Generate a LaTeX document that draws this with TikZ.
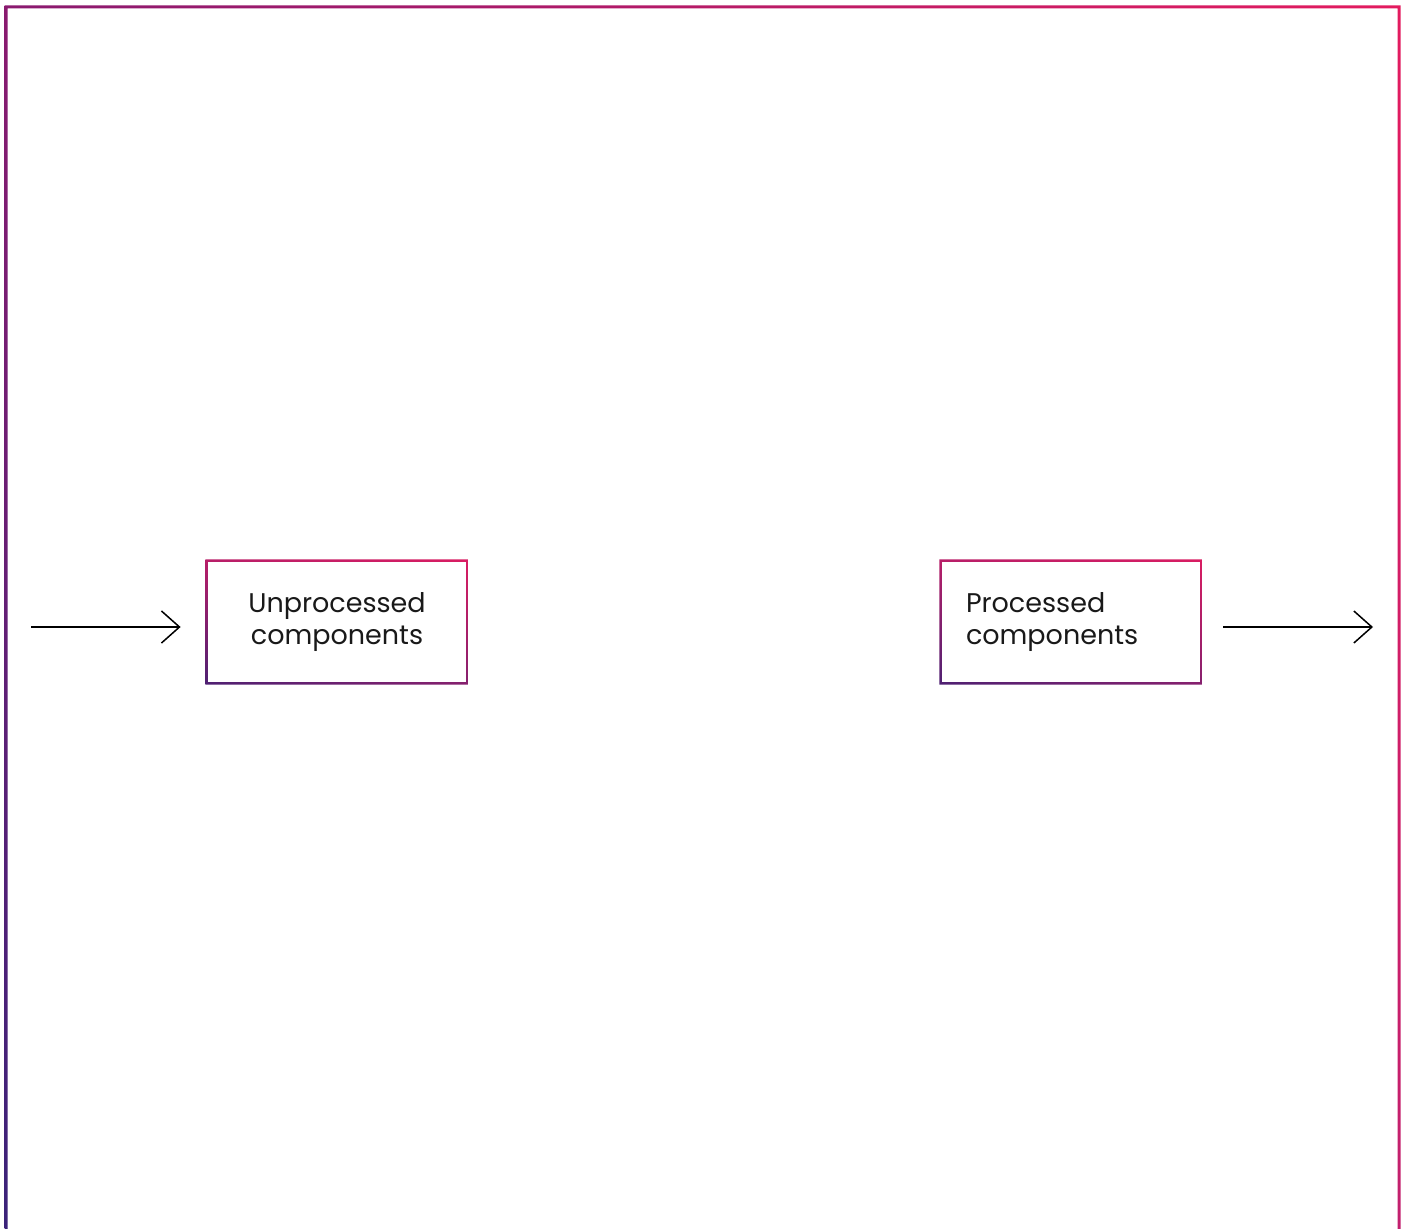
\documentclass[tikz,border=0pt]{standalone}
\usepackage{fontspec}
\setmainfont{Poppins}
\usetikzlibrary{arrows.meta,positioning,shadings}
\definecolor{frametl}{HTML}{8A1A6F}
\definecolor{frametr}{HTML}{E31B5F}
\definecolor{framebl}{HTML}{3A2279}
\definecolor{framebr}{HTML}{C2206E}
\definecolor{boxtl}{HTML}{B81E68}
\definecolor{boxtr}{HTML}{D91D62}
\definecolor{boxbl}{HTML}{4E2072}
\definecolor{boxbr}{HTML}{85206E}
\begin{document}
\begin{tikzpicture}[x=0.5pt,y=-0.5pt,
  stage/.style={minimum width=130pt, minimum height=61pt, inner sep=0pt, text width=105pt,
    font=\fontsize{13.5}{16}\selectfont, text=black!90},
  flow/.style={-{Straight Barb[length=9pt,width=16pt]}, line width=0.75pt}]
\useasboundingbox (0,0) rectangle (1407,1229);
\clip (0,0) rectangle (1407,1229);
% outer frame, open at the bottom
\shade[even odd rule, upper left=frametl, upper right=frametr, lower left=framebl, lower right=framebr]
  (4.5,5.5) rectangle (1400.5,1240) (7.5,8.5) rectangle (1397.5,1240);
% stages
\node[stage, align=center] (unproc) at (337,622) {Unprocessed\\components};
\node[stage, align=left] (proc) at (1071,622) {Processed\\components};
\foreach \n in {unproc,proc}
  \shade[even odd rule, upper left=boxtl, upper right=boxtr, lower left=boxbl, lower right=boxbr]
    ([shift={(-0.6pt,-0.6pt)}]\n.south west) rectangle ([shift={(0.6pt,0.6pt)}]\n.north east)
    ([shift={(0.6pt,0.6pt)}]\n.south west) rectangle ([shift={(-0.6pt,-0.6pt)}]\n.north east);
% in and out
\coordinate (inL) at (31,627);
\coordinate (outR) at (1373,627);
\draw[flow, shorten >=13pt] (inL) -- (inL -| unproc.west);
\draw[flow, shorten <=11pt] (proc.east |- outR) -- (outR);
\end{tikzpicture}
\end{document}
